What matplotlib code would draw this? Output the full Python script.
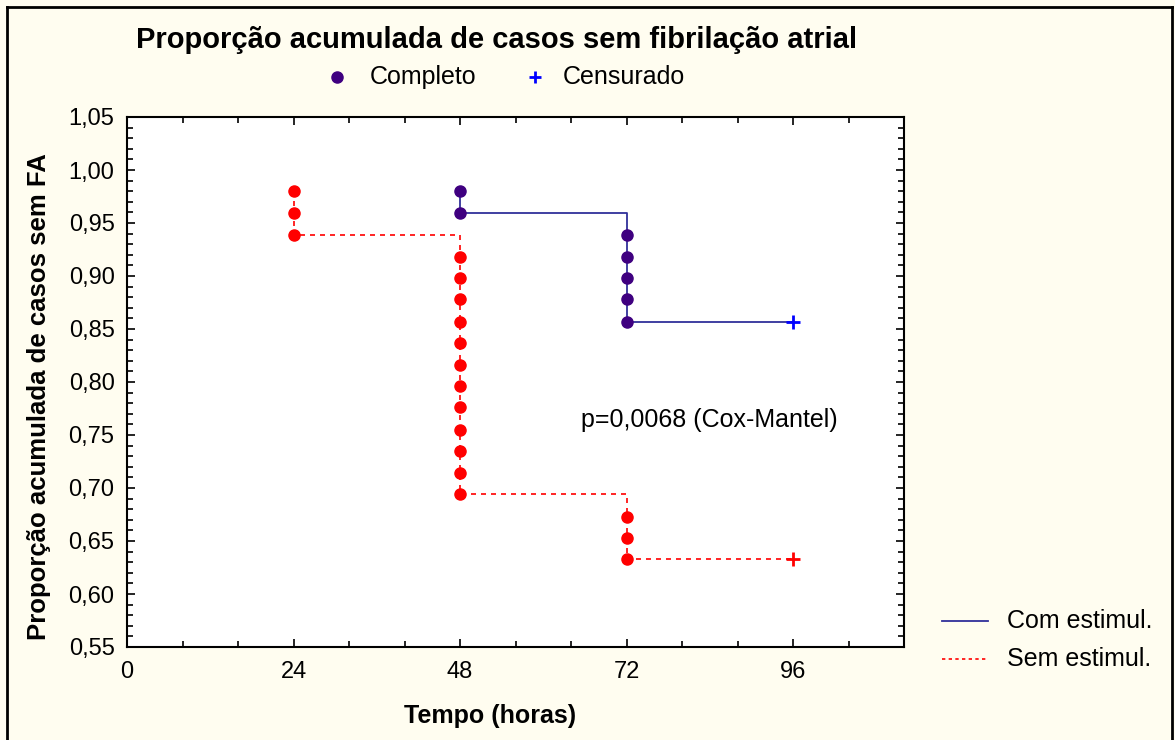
import numpy as np
import matplotlib.pyplot as plt
from matplotlib.ticker import MultipleLocator, FuncFormatter
from matplotlib.lines import Line2D

plt.rcParams['font.family'] = ['Liberation Sans', 'DejaVu Sans']

# Com estimulação: tempos dos eventos (horas) e proporção acumulada
com_t = [48, 48, 72, 72, 72, 72, 72]
com_s = [0.980, 0.959, 0.939, 0.918, 0.898, 0.878, 0.857]
com_cens_t = [96]
com_cens_s = [0.857]

# Sem estimulação
sem_t = [24, 24, 24] + [48] * 12 + [72, 72, 72]
sem_s = [0.980, 0.959, 0.939,
         0.918, 0.898, 0.878, 0.857, 0.837, 0.816, 0.796, 0.776, 0.755, 0.735, 0.714, 0.694,
         0.673, 0.653, 0.633]
sem_cens_t = [96]
sem_cens_s = [0.633]

cor_fundo = '#FFFDF0'
azul_linha = '#30309A'
roxo = '#3F0080'
vermelho = '#FF0000'


def degraus(t, s, t_fim, s_fim):
    x = [t[0]]
    y = [s[0]]
    for ti, si in zip(t[1:], s[1:]):
        x += [ti, ti]
        y += [y[-1], si]
    x.append(t_fim)
    y.append(s_fim)
    return x, y


fig = plt.figure(figsize=(11.75, 7.4), dpi=100, facecolor=cor_fundo)
ax = fig.add_axes([127 / 1175, 1 - 647 / 740, (904 - 127) / 1175, (647 - 117) / 740])
ax.set_facecolor('white')

xc, yc = degraus(com_t, com_s, com_cens_t[0], com_cens_s[0])
ax.plot(xc, yc, '-', color=azul_linha, lw=1.3, zorder=2)
xs, ys = degraus(sem_t, sem_s, sem_cens_t[0], sem_cens_s[0])
ax.plot(xs, ys, '--', color=vermelho, lw=1.2, dashes=(3, 3), zorder=2)

ax.plot(com_t, com_s, 'o', color=roxo, ms=8, zorder=3)
ax.plot(sem_t, sem_s, 'o', color=vermelho, ms=8, zorder=3)
ax.plot(com_cens_t, com_cens_s, '+', color='#0000FF', ms=10, mew=2, zorder=3)
ax.plot(sem_cens_t, sem_cens_s, '+', color=vermelho, ms=10, mew=2, zorder=3)

ax.set_xlim(0, 112)
ax.set_ylim(0.55, 1.05)
ax.xaxis.set_major_locator(MultipleLocator(24))
ax.xaxis.set_minor_locator(MultipleLocator(8))
ax.yaxis.set_major_locator(MultipleLocator(0.05))
ax.yaxis.set_minor_locator(MultipleLocator(0.01))
ax.set_xticks([0, 24, 48, 72, 96])
ax.yaxis.set_major_formatter(FuncFormatter(lambda v, p: f'{v:.2f}'.replace('.', ',')))
ax.tick_params(which='both', direction='in', top=True, right=True, labelsize=17, width=1.2)
ax.tick_params(which='major', length=6)
ax.tick_params(which='minor', length=4)
ax.tick_params(axis='x', pad=10)
ax.tick_params(axis='y', pad=9)
for sp in ax.spines.values():
    sp.set_linewidth(1.5)

# rótulos dos eixos
fig.text(490 / 1175, 1 - 716 / 740, 'Tempo (horas)', fontsize=18, fontweight='bold',
         ha='center', va='center')
fig.text(39 / 1175, 1 - 397 / 740, 'Proporção acumulada de casos sem FA', fontsize=18.5,
         fontweight='bold', ha='center', va='center', rotation=90)

ax.text(65.4, 0.764, 'p=0,0068 (Cox-Mantel)', fontsize=18, va='center', ha='left')

fig.text(497 / 1175, 1 - 40 / 740, 'Proporção acumulada de casos sem fibrilação atrial',
         fontsize=21, fontweight='bold', ha='center', va='center')

# legenda superior
fig.add_artist(Line2D([337 / 1175], [1 - 77 / 740], marker='o', color=roxo, ms=8, ls=''))
fig.text(370 / 1175, 1 - 77 / 740, 'Completo', fontsize=18, va='center')
fig.add_artist(Line2D([535 / 1175], [1 - 77 / 740], marker='+', color='#0000FF', ms=9, mew=2, ls=''))
fig.text(563 / 1175, 1 - 77 / 740, 'Censurado', fontsize=18, va='center')

# legenda lateral
fig.add_artist(Line2D([942 / 1175, 988 / 1175], [1 - 621 / 740] * 2, color=azul_linha, lw=1.3))
fig.text(1007 / 1175, 1 - 621 / 740, 'Com estimul.', fontsize=18, va='center')
fig.add_artist(Line2D([942 / 1175, 988 / 1175], [1 - 659 / 740] * 2, color=vermelho, lw=1.2,
                      ls='--', dashes=(2, 2)))
fig.text(1007 / 1175, 1 - 659 / 740, 'Sem estimul.', fontsize=18, va='center')

# moldura
for xx, yy in [([7, 7], [740, 7]), ([7, 1172], [7, 7]), ([1172, 1172], [7, 740])]:
    fig.add_artist(Line2D([v / 1175 for v in xx], [1 - v / 740 for v in yy], color='black', lw=2))

fig.savefig('out.png', dpi=100, facecolor=cor_fundo)
